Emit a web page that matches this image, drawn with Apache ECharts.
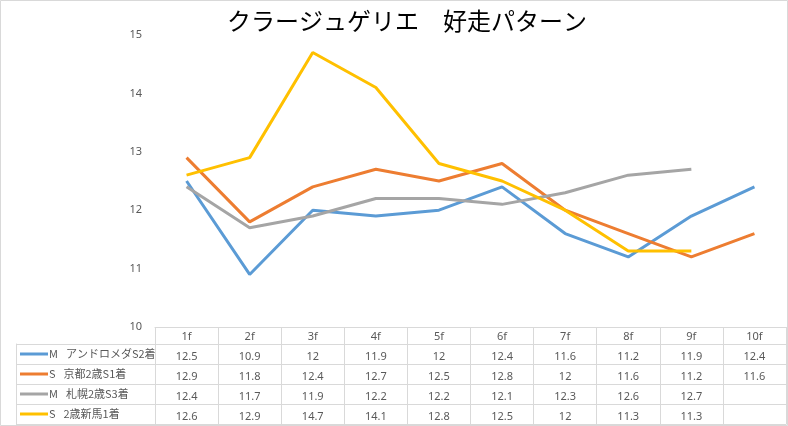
<!DOCTYPE html>
<html>
<head>
<meta charset="utf-8">
<script src="https://cdn.jsdelivr.net/npm/echarts@6/dist/echarts.min.js"></script>
<style>html,body{margin:0;padding:0;background:#fff}#c{width:788px;height:426px}</style>
</head>
<body>
<div id="c"></div>
<script>
const titleText = 'クラージュゲリエ\u3000好走パターン';
const categories = ['1f','2f','3f','4f','5f','6f','7f','8f','9f','10f'];
const seriesNames = ['M\u2002 アンドロメダS2着','S\u2002 京都2歳S1着','M\u2002 札幌2歳S3着','S\u2002 2歳新馬1着'];
const andromeda = [12.5,10.9,12,11.9,12,12.4,11.6,11.2,11.9,12.4];
const kyoto2sai = [12.9,11.8,12.4,12.7,12.5,12.8,12,11.6,11.2,11.6];
const sapporo2sai = [12.4,11.7,11.9,12.2,12.2,12.1,12.3,12.6,12.7,null];
const shinba = [12.6,12.9,14.7,14.1,12.8,12.5,12,11.3,11.3,null];
const colors = ['#5b9bd5','#ed7d31','#a5a5a5','#ffc000'];
const yMin = 10, yMax = 15, yStep = 1;

const allSeries = [andromeda, kyoto2sai, sapporo2sai, shinba];
const textColor = '#595959';
const gridLine = '#d9d9d9';
const numFont = 'Noto Sans, sans-serif';
const jpFont = 'Noto Sans CJK JP, sans-serif';

const xAxes = [{
  type: 'category', gridIndex: 0, data: categories, position: 'bottom',
  boundaryGap: true,
  axisLine: {show: true, lineStyle: {color: gridLine}},
  axisTick: {show: true, interval: 0, length: 97.5, lineStyle: {color: gridLine}},
  axisLabel: {color: textColor, fontSize: 11, fontFamily: numFont, margin: 4, interval: 0}
}];
allSeries.forEach((vals, i) => {
  xAxes.push({
    type: 'category', gridIndex: 0, position: 'bottom', offset: 20 * (i + 1),
    data: vals.map(v => v === null ? '' : String(v)),
    axisLine: {show: false}, axisTick: {show: false},
    axisLabel: {color: textColor, fontSize: 11, fontFamily: numFont, margin: 4, interval: 0}
  });
});
xAxes.push({type: 'value', gridIndex: 1, show: false});

const rich = {t: {color: textColor, fontSize: 11, fontFamily: jpFont, padding: [0, 0, 0, 1]}};
colors.forEach((c, i) => { rich['l' + i] = {width: 28, height: 3, backgroundColor: c}; });

const chart = echarts.init(document.getElementById('c'));
chart.setOption({
  animation: false,
  backgroundColor: '#fff',
  title: {
    text: titleText, left: 222, top: 4,
    textStyle: {fontSize: 24, fontWeight: 'normal', color: '#000', fontFamily: jpFont}
  },
  grid: [
    {left: 155, right: 2, top: 35, bottom: 99},
    {left: 16, right: 2, top: 344, height: 80}
  ],
  xAxis: xAxes,
  yAxis: [
    {type: 'value', gridIndex: 0, min: yMin, max: yMax, interval: yStep,
     axisLine: {show: false}, axisTick: {show: false}, splitLine: {show: false},
     axisLabel: {color: textColor, fontSize: 11, fontFamily: numFont, margin: 13}},
    {type: 'category', gridIndex: 1, data: seriesNames, inverse: true, boundaryGap: true,
     axisLine: {show: true, lineStyle: {color: gridLine}}, axisTick: {show: false},
     splitLine: {show: true, lineStyle: {color: gridLine}},
     axisLabel: {inside: true, margin: 4, interval: 0,
       formatter: (v, idx) => '{l' + idx + '|}{t|' + v + '}', rich: rich}}
  ],
  series: allSeries.map((vals, i) => ({
    name: seriesNames[i], type: 'line', xAxisIndex: 0, yAxisIndex: 0,
    data: vals, symbol: 'none', showSymbol: false,
    lineStyle: {width: 3, color: colors[i]}, itemStyle: {color: colors[i]},
    connectNulls: false
  })),
  graphic: [{type: 'rect', silent: true, shape: {x: 0.5, y: 0.5, width: 787, height: 425},
    style: {fill: 'none', stroke: gridLine, lineWidth: 1}}]
});
</script>
</body>
</html>
